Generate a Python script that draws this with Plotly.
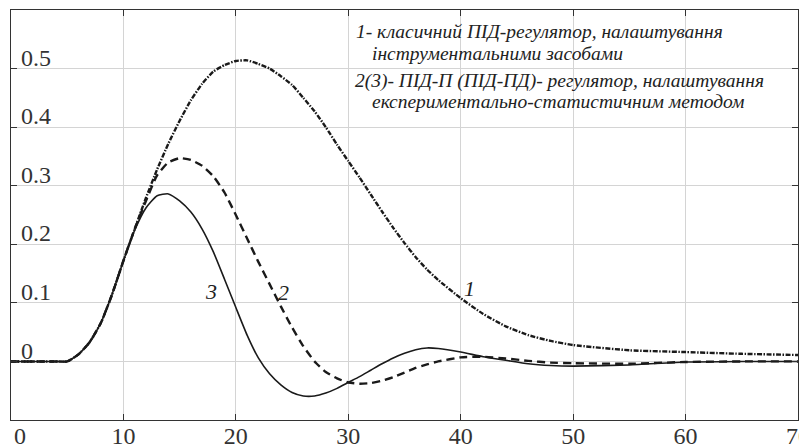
import plotly.graph_objects as go

# time axis
t = [0, 1, 2, 3, 4, 5, 6, 7, 8, 9, 10, 11, 12, 13, 14, 15, 16, 17, 18, 19, 20,
     21, 22, 23, 24, 25, 26, 27, 28, 29, 30, 31, 32, 33, 34, 35, 36, 37, 38,
     40, 42, 44, 46, 48, 50, 55, 60, 65, 70]

# 1 - classic PID
y1 = [0, 0, 0, 0, 0, 0, 0.012, 0.033, 0.066, 0.115, 0.172, 0.226, 0.279, 0.328,
      0.372, 0.411, 0.446, 0.474, 0.495, 0.506, 0.513,
      0.514, 0.508, 0.500, 0.487, 0.472, 0.450, 0.427, 0.400, 0.370, 0.342,
      0.314, 0.285, 0.256, 0.228, 0.202, 0.178, 0.157, 0.139,
      0.108, 0.081, 0.060, 0.045, 0.035, 0.028, 0.019, 0.016, 0.013, 0.011]

# 2 - PID-P
y2 = [0, 0, 0, 0, 0, 0, 0.012, 0.033, 0.066, 0.115, 0.172, 0.226, 0.274, 0.318,
      0.340, 0.347, 0.344, 0.334, 0.316, 0.288, 0.250,
      0.210, 0.170, 0.132, 0.094, 0.058, 0.026, 0.000, -0.018, -0.029, -0.036,
      -0.038, -0.037, -0.033, -0.027, -0.019, -0.011, -0.005, 0.000,
      0.007, 0.008, 0.005, 0.001, -0.002, -0.003, -0.004, -0.001, 0.000, 0.000]

# 3 - PID-PD
y3 = [0, 0, 0, 0, 0, 0, 0.012, 0.033, 0.066, 0.115, 0.172, 0.224, 0.262, 0.283,
      0.286, 0.274, 0.255, 0.226, 0.187, 0.140, 0.092,
      0.045, 0.006, -0.021, -0.040, -0.053, -0.059, -0.059, -0.054, -0.046, -0.036,
      -0.026, -0.015, -0.004, 0.006, 0.014, 0.020, 0.023, 0.022,
      0.016, 0.008, 0.002, -0.004, -0.007, -0.008, -0.006, -0.001, 0.000, 0.000]

x_ticks = [0, 10, 20, 30, 40, 50, 60, 70]
x_tick_text = ["\u00a0\u00a0\u00a00", "10", "20", "30", "40", "50", "60", "70"]
y_ticks = [0, 0.1, 0.2, 0.3, 0.4, 0.5]
y_tick_text = ["0", "0.1", "0.2", "0.3", "0.4", "0.5"]

legend_lines = [
    "1- класичний ПІД-регулятор, налаштування",
    "інструментальними засобами",
    "2(3)- ПІД-П (ПІД-ПД)- регулятор, налаштування",
    "експериментально-статистичним методом",
]
legend_x = [30.55, 31.9, 30.4, 31.9]
legend_y = [0.564, 0.526, 0.478, 0.443]

curve_labels = ["1", "2", "3"]
curve_label_x = [40.8, 24.2, 17.8]
curve_label_y = [0.124, 0.118, 0.119]

serif = "Liberation Serif, Times New Roman, serif"

fig = go.Figure()
fig.add_trace(go.Scatter(x=t, y=y1, mode="lines",
                         line=dict(color="#1a1a1a", width=2.4, dash="5px,1.5px,1.5px,1.5px",
                                   shape="spline", smoothing=0.5)))
fig.add_trace(go.Scatter(x=t, y=y2, mode="lines",
                         line=dict(color="#1a1a1a", width=2.4, dash="8px,5px",
                                   shape="spline", smoothing=0.5)))
fig.add_trace(go.Scatter(x=t, y=y3, mode="lines",
                         line=dict(color="#1a1a1a", width=1.6,
                                   shape="spline", smoothing=0.5)))

annotations = []
for txt, ax, ay in zip(legend_lines, legend_x, legend_y):
    annotations.append(dict(x=ax, y=ay, xref="x", yref="y", text="<i>" + txt + "</i>",
                            showarrow=False, xanchor="left", yanchor="middle",
                            font=dict(family=serif, size=19.5, color="#222")))
for txt, ax, ay in zip(curve_labels, curve_label_x, curve_label_y):
    annotations.append(dict(x=ax, y=ay, xref="x", yref="y", text="<i>" + txt + "</i>",
                            showarrow=False, xanchor="center", yanchor="middle",
                            font=dict(family=serif, size=22, color="#222")))

fig.update_layout(
    width=799, height=447,
    margin=dict(l=11, r=1, t=10, b=27, autoexpand=False),
    paper_bgcolor="white", plot_bgcolor="white",
    showlegend=False,
    annotations=annotations,
    xaxis=dict(range=[0, 70], tickvals=x_ticks, ticktext=x_tick_text,
               automargin=False, ticklabeloverflow="allow", ticklabelstandoff=-6,
               showgrid=True, gridcolor="#d4d4d4", gridwidth=1, zeroline=False,
               showline=True, linecolor="#333", linewidth=1.2, mirror="ticks",
               ticks="inside", ticklen=6, tickcolor="#333",
               tickfont=dict(family=serif, size=24, color="#333")),
    yaxis=dict(range=[-0.1, 0.6], tickvals=y_ticks, ticktext=y_tick_text,
               automargin=False, ticklabeloverflow="allow",
               showgrid=True, gridcolor="#d4d4d4", gridwidth=1, zeroline=False,
               showline=True, linecolor="#333", linewidth=1.2, mirror="ticks",
               ticks="inside", ticklen=6, tickcolor="#333",
               ticklabelposition="inside top", ticklabelstandoff=11, ticklabelshift=6,
               tickfont=dict(family=serif, size=24, color="#333")),
)

fig.write_html("out.html", config={"displayModeBar": False},
               post_script="document.body.style.margin='0';")
